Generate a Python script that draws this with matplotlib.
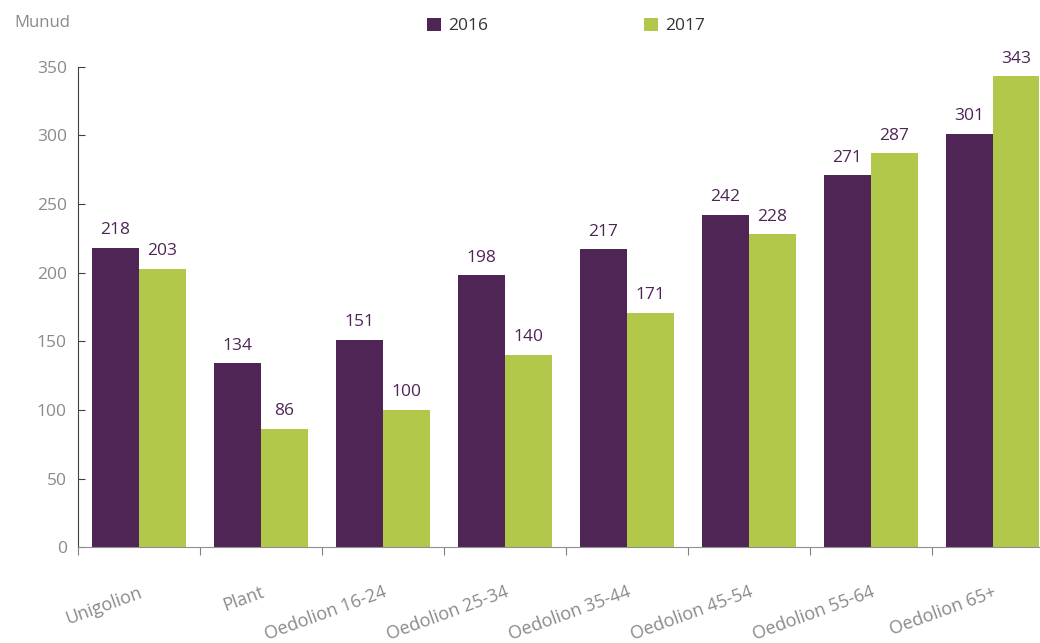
# Munud fesul grŵp oedran, 2016 a 2017

import matplotlib.pyplot as plt
import numpy as np

categories = ['Unigolion', 'Plant', 'Oedolion 16-24', 'Oedolion 25-34',
              'Oedolion 35-44', 'Oedolion 45-54', 'Oedolion 55-64', 'Oedolion 65+']
vals_2016 = [218, 134, 151, 198, 217, 242, 271, 301]
vals_2017 = [203, 86, 100, 140, 171, 228, 287, 343]
yticks = [0, 50, 100, 150, 200, 250, 300, 350]

purple = '#4F2556'
green = '#B2C84A'
grey = '#8A8A8A'

plt.rcParams['font.family'] = ['Open Sans', 'DejaVu Sans']

fig = plt.figure(figsize=(10.4, 6.43), dpi=100)
ax = fig.add_axes([0.075, 0.149, 0.938, 0.747])

x = np.arange(len(categories))
w = 0.385
b1 = ax.bar(x - w / 2, vals_2016, w, color=purple, label='2016')
b2 = ax.bar(x + w / 2, vals_2017, w, color=green, label='2017')

for bars in (b1, b2):
    for r in bars:
        ax.annotate(str(int(r.get_height())), (r.get_x() + r.get_width() / 2, r.get_height()),
                    xytext=(0, 7), textcoords='offset points', ha='center', va='bottom',
                    fontsize=12.5, color=purple)

ax.set_xlim(-0.5, len(categories) - 0.5)
ax.set_ylim(0, 350)
ax.set_yticks(yticks)
ax.tick_params(axis='y', colors=grey, labelsize=12.5, length=5, direction='in', pad=8)
ax.tick_params(axis='y', color='#404040')
ax.set_xticks(np.arange(len(categories) + 1) - 0.5, minor=False)
ax.set_xticklabels([])
ax.tick_params(axis='x', length=6, direction='out', color='#808080')
ax.set_xticks(x, minor=True)
ax.set_xticklabels(categories, minor=True, rotation=20, ha='right', rotation_mode='anchor',
                   fontsize=13, color=grey)
ax.tick_params(axis='x', which='minor', length=0, pad=26)

for s in ['top', 'right']:
    ax.spines[s].set_visible(False)
ax.spines['left'].set_color('#404040')
ax.spines['bottom'].set_color('#909090')

fig.text(0.014, 0.965, 'Munud', fontsize=12, color=grey, va='center')
ax.legend(loc='center', bbox_to_anchor=(0.5, 1.085), ncol=2, frameon=False,
          fontsize=12.5, handlelength=0.8, handleheight=0.8, columnspacing=9,
          handletextpad=0.4, labelcolor='#333333')

fig.savefig('out.png', dpi=100)
